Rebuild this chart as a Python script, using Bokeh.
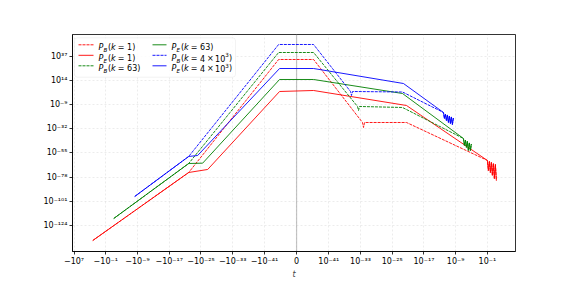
import numpy as np
from bokeh.plotting import figure
from bokeh.models import (Range1d, FixedTicker, CustomJSTickFormatter, Span,
                          BoxAnnotation, ColumnDataSource)
from bokeh.core.properties import value
from bokeh.embed import file_html
from bokeh.resources import INLINE

# ---------------- data (t, P) ----------------
# k = 1 (red)
t_PE_k1 = [-1.9e2, -1.23e-22, -2.0e-27, -1.5e-45, 1.5e-45, 4.0e-22, 0.1,
           0.179, 0.319, 0.57, 1.02, 1.82, 3.25, 5.8, 10.4, 18.5]
PE_k1 = [2.5e-139, 2.0e-74, 1.58e-71, 4.0e3, 3.6e4, 1.78e-10, 6.3e-63,
         1.6e-72, 6.3e-64, 2.0e-74, 7.9e-65, 3.2e-77, 7.9e-66, 4.0e-80, 7.9e-67, 5.0e-82]
t_PB_k1 = [-1.9e2, -1.23e-22, -2.6e-45, 1.5e-45, 3.2e-33, 5.9e-33, 1.05e-32, 4.0e-22, 0.1,
           0.179, 0.319, 0.57, 1.02, 1.82, 3.25, 5.8, 10.4, 18.5]
PB_k1 = [2.5e-139, 2.0e-74, 1.4e34, 1.4e34, 1.07e-26, 1.8e-31, 1.07e-26, 1.07e-26, 6.3e-63,
         1.6e-72, 6.3e-64, 2.0e-74, 7.9e-65, 3.2e-77, 7.9e-66, 4.0e-80, 7.9e-67, 5.0e-82]

# k = 63 (green)
t_PE_k63 = [-9.8e-4, -1.23e-22, -3.7e-26, -1.5e-45, 1.5e-45, 3.9e-23, 9.1e-8,
            1.6e-7, 2.9e-7, 5.1e-7, 9.1e-7, 1.6e-6, 2.9e-6, 5.2e-6, 9.3e-6]
PE_k63 = [2.5e-118, 7.9e-66, 1.6e-65, 1.15e15, 1.15e15, 50.0, 5.8e-42,
          1.26e-48, 2.0e-43, 1.6e-50, 7.9e-45, 2.0e-53, 3.2e-46, 2.0e-53, 3.2e-47]
t_PB_k63 = [-9.8e-4, -1.23e-22, -2.6e-45, 1.5e-45, 1.8e-34, 3.2e-34, 5.8e-34, 3.9e-23, 9.1e-8,
            1.6e-7, 2.9e-7, 5.1e-7, 9.1e-7, 1.6e-6, 2.9e-6, 5.2e-6, 9.3e-6]
PB_k63 = [2.5e-118, 7.9e-66, 6.6e40, 6.6e40, 2.0e-11, 3.2e-15, 2.0e-11, 2.2e-12, 5.8e-42,
          1.26e-48, 2.0e-43, 1.6e-50, 7.9e-45, 2.0e-53, 3.2e-46, 2.0e-53, 3.2e-47]

# k = 4e3 (blue)
t_PE_k4e3 = [-5.0e-9, -1.23e-22, -6.8e-25, -1.5e-45, 1.5e-45, 6.9e-23, 8.3e-13,
             1.5e-12, 2.6e-12, 4.7e-12, 8.3e-12, 1.5e-11, 2.7e-11, 4.8e-11, 8.5e-11, 1.5e-10, 2.7e-10]
PE_k4e3 = [2.6e-97, 4.0e-59, 3.4e-58, 3.5e25, 3.5e25, 1.7e11, 3.7e-17,
           6.3e-23, 1.26e-18, 7.9e-25, 1.6e-19, 1.0e-26, 1.6e-20, 1.26e-27, 2.0e-21, 1.26e-28, 2.0e-22]
t_PB_k4e3 = [-5.0e-9, -1.23e-22, -2.6e-45, 1.5e-45, 3.1e-36, 5.5e-36, 1.0e-35, 3.9e-23, 8.3e-13,
             1.5e-12, 2.6e-12, 4.7e-12, 8.3e-12, 1.5e-11, 2.7e-11, 4.8e-11, 8.5e-11, 1.5e-10, 2.7e-10]
PB_k4e3 = [2.6e-97, 4.0e-59, 2.9e48, 2.9e48, 4.0e3, 0.62, 4.0e3, 1.35e3, 3.7e-17,
           6.3e-23, 1.26e-18, 7.9e-25, 1.6e-19, 1.0e-26, 1.6e-20, 1.26e-27, 2.0e-21, 1.26e-28, 2.0e-22]

# tick values
x_tick_values = [-1e7, -1e-1, -1e-9, -1e-17, -1e-25, -1e-33, -1e-41, 0.0,
                 1e-41, 1e-33, 1e-25, 1e-17, 1e-9, 1e-1]
y_tick_exponents = [37, 14, -9, -32, -55, -78, -101, -124]

# ---------------- symlog transform (matplotlib style) ----------------
LINTHRESH = 1e-48
LINSCALE_ADJ = 1.0 / (1.0 - 0.1)


def symlog(t):
    t = np.asarray(t, dtype=float)
    a = np.abs(t)
    big = np.sign(t) * (LINSCALE_ADJ + np.log10(np.maximum(a, LINTHRESH) / LINTHRESH))
    lin = t / LINTHRESH * LINSCALE_ADJ
    return np.where(a > LINTHRESH, big, lin)


SUP = str.maketrans("0123456789-", "⁰¹²³⁴⁵⁶⁷⁸⁹⁻")


def sym_label(v):
    if v == 0:
        return "0"
    e = int(round(np.log10(abs(v))))
    s = "10" + str(e).translate(SUP)
    return ("\u2212" + s) if v < 0 else s


# ---------------- figure ----------------
U_MIN, U_MAX = -56.5, 55.2
L_MIN, L_MAX = -149.1, 58.0
FONT = "DejaVu Sans"

p = figure(width=574, height=287, output_backend="svg", toolbar_location=None,
           y_axis_type="log",
           x_range=Range1d(U_MIN, U_MAX), y_range=Range1d(10 ** L_MIN, 10 ** L_MAX),
           min_border_left=72, min_border_right=59, min_border_top=34, min_border_bottom=36)
p.background_fill_color = "white"
p.border_fill_color = "white"
p.outline_line_color = "black"
p.outline_line_width = 0.8

# axes
xt = [float(v) for v in symlog(x_tick_values)]
xl = [sym_label(v) for v in x_tick_values]
p.xaxis.ticker = FixedTicker(ticks=xt)
p.xaxis.formatter = CustomJSTickFormatter(args=dict(tpos=xt, tlab=xl), code="""
let best = 0, bd = Infinity;
for (let i = 0; i < tpos.length; i++) {
  const d = Math.abs(tpos[i] - tick);
  if (d < bd) { bd = d; best = i; }
}
return tlab[best];
""")
p.yaxis.ticker = FixedTicker(ticks=[10.0 ** e for e in y_tick_exponents])
p.yaxis.formatter = CustomJSTickFormatter(code="""
const sup = {'0':'\u2070','1':'\u00b9','2':'\u00b2','3':'\u00b3','4':'\u2074','5':'\u2075',
             '6':'\u2076','7':'\u2077','8':'\u2078','9':'\u2079','-':'\u207b'};
const e = Math.round(Math.log10(tick));
return '10' + String(e).split('').map(c => sup[c]).join('');
""")
for ax in (p.xaxis, p.yaxis):
    ax.major_label_text_font = FONT
    ax.major_label_text_font_size = "8px"
    ax.major_label_text_color = "black"
    ax.axis_line_color = "black"
    ax.axis_line_width = 0.8
    ax.major_tick_line_color = "black"
    ax.major_tick_line_width = 0.8
    ax.major_tick_in = 0
    ax.major_tick_out = 3
    ax.minor_tick_line_color = None
    ax.major_label_standoff = 2
p.xaxis.axis_label = "t"
p.xaxis.axis_label_text_font = FONT
p.xaxis.axis_label_text_font_style = "italic"
p.xaxis.axis_label_text_font_size = "8px"
p.xaxis.axis_label_standoff = 1

p.grid.grid_line_color = "#b0b0b0"
p.grid.grid_line_alpha = 0.3
p.grid.grid_line_width = 0.8
p.grid.grid_line_dash = "2 2"

p.add_layout(Span(location=0, dimension="height", line_color="#a0a0a0",
                  line_alpha=0.6, line_width=1.2, level="underlay"))

# ---------------- curves ----------------
series = [
    (t_PB_k1, PB_k1, "red", "dashed"),
    (t_PE_k1, PE_k1, "red", "solid"),
    (t_PB_k63, PB_k63, "green", "dashed"),
    (t_PE_k63, PE_k63, "green", "solid"),
    (t_PB_k4e3, PB_k4e3, "blue", "dashed"),
    (t_PE_k4e3, PE_k4e3, "blue", "solid"),
]
for t, P, col, dash in series:
    p.line(symlog(t), P, line_color=col, line_width=1.0, line_alpha=0.9,
           line_dash=("3 1" if dash == "dashed" else "solid"))

# ---------------- legend (custom, with sub/superscripts) ----------------
X0_PX, X1_PX = 72.0, 515.0
Y0_PX, Y1_PX = 34.0, 251.0


def px_to_u(px):
    return U_MIN + (px - X0_PX) * (U_MAX - U_MIN) / (X1_PX - X0_PX)


def py_to_P(py):
    return 10 ** (L_MAX - (py - Y0_PX) * (L_MAX - L_MIN) / (Y1_PX - Y0_PX))


p.add_layout(BoxAnnotation(left=px_to_u(74), right=px_to_u(235),
                           top=py_to_P(37.3), bottom=py_to_P(76.7),
                           fill_color="white", fill_alpha=0.85,
                           line_color="#cccccc", line_width=0.8, border_radius=3,
                           level="annotation"))

entries = [  # (col, row, colour, dash, sub, kind)
    (0, 0, "red", "dashed", "B", "1"),
    (0, 1, "red", "solid", "E", "1"),
    (0, 2, "green", "dashed", "B", "63"),
    (1, 0, "green", "solid", "E", "63"),
    (1, 1, "blue", "dashed", "B", "4e3"),
    (1, 2, "blue", "solid", "E", "4e3"),
]
row_y = [44.3, 54.8, 65.3]
col_line = [(78, 93), (152, 166)]
col_text = [98, 171]

norm = dict(x=[], y=[], text=[], xo=[], yo=[], fs=[])
ital = dict(x=[], y=[], text=[], xo=[], yo=[], fs=[])


def piece(d, x, y, txt, xo, yo, fs="8px"):
    d["x"].append(x); d["y"].append(y); d["text"].append(txt)
    d["xo"].append(xo); d["yo"].append(yo); d["fs"].append(fs)


for c, r, col, dash, sub, kind in entries:
    y = py_to_P(row_y[r])
    r_ = p.line([px_to_u(col_line[c][0]), px_to_u(col_line[c][1])], [y, y],
                line_color=col, line_width=1.0, line_alpha=0.9,
                line_dash=("3 1" if dash == "dashed" else "solid"))
    r_.level = "overlay"
    x = px_to_u(col_text[c])
    base = 3.0
    piece(ital, x, y, "P", 0.0, base)
    piece(ital, x, y, sub, 4.9, base + 2.2, "5.6px")
    piece(norm, x, y, "(", 9.4, base)
    piece(ital, x, y, "k", 12.5, base)
    piece(norm, x, y, "=", 19.3, base)
    if kind == "1":
        piece(norm, x, y, "1)", 28.6, base)
    elif kind == "63":
        piece(norm, x, y, "63)", 28.6, base)
    else:
        piece(norm, x, y, "4", 28.6, base)
        piece(norm, x, y, "\u00d7", 35.4, base)
        piece(norm, x, y, "10", 43.6, base)
        piece(norm, x, y, "3", 53.8, base - 3.4, "5.6px")
        piece(norm, x, y, ")", 57.4, base)

for d, style in ((norm, "normal"), (ital, "italic")):
    r_ = p.text(x="x", y="y", text="text", x_offset="xo", y_offset="yo",
                text_font_size="fs", source=ColumnDataSource(d),
                text_font_style=style, text_color="black",
                text_font=value(FONT),
                text_baseline="alphabetic", text_align="left")
    r_.level = "overlay"

open("out.html", "w", encoding="utf-8").write(file_html(p, INLINE))
